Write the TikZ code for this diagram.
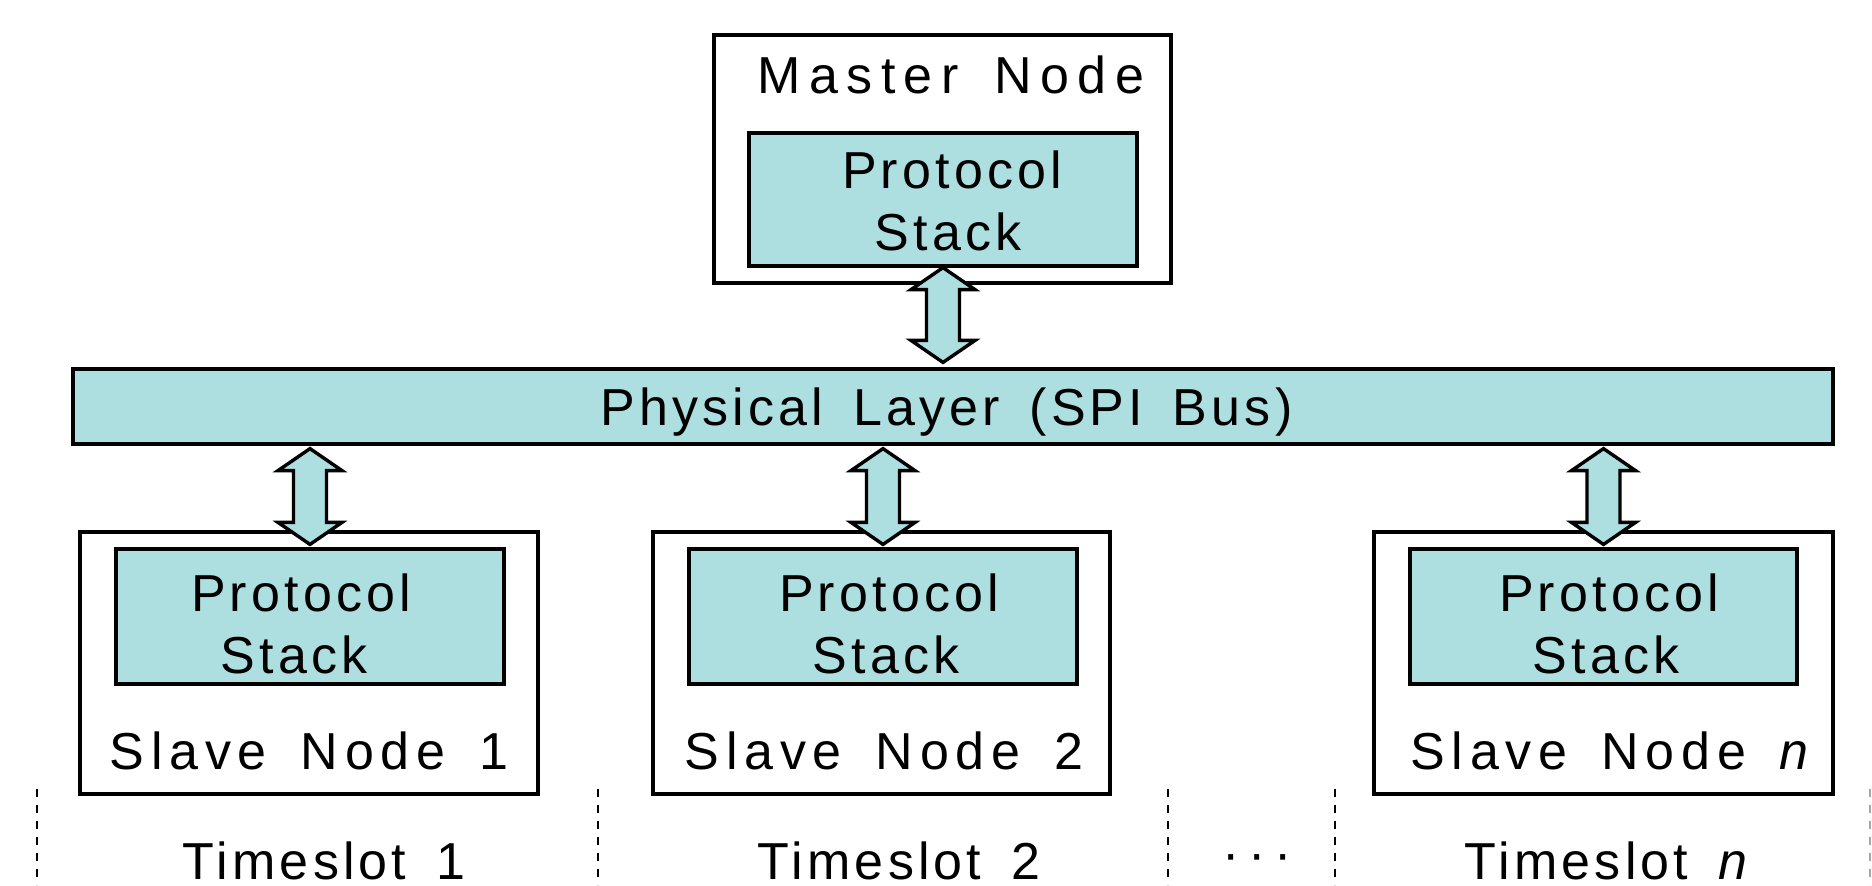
\documentclass[tikz,border=0pt]{standalone}
\usepackage{fontspec}
\setmainfont{Liberation Sans}[LetterSpace=8, WordSpace=1.6]
\usetikzlibrary{calc}

\definecolor{stackfill}{RGB}{173,222,224}

\tikzset{
  outerbox/.style={draw, line width=2pt, fill=white, inner sep=0pt},
  stackbox/.style={draw, line width=1.6pt, fill=stackfill, inner sep=0pt},
  lbl/.style={inner sep=0pt, anchor=base, font=\fontsize{26}{31}\selectfont},
  nodelbl/.style={lbl, font=\fontsize{26}{31}\selectfont\addfontfeature{LetterSpace=#1}},
  busarrow/.style={draw, line width=1.7pt, fill=stackfill, line join=miter},
  slotline/.style={line width=1pt, dash pattern=on 4pt off 4pt},
}

% double-headed block arrow from #1 (upper tip) to #2 (lower tip)
\newcommand\duplexarrow[2]{%
  \filldraw[busarrow] let \p1=(#1), \p2=(#2) in
    (\x1,\y1) -- (\x1+16pt,\y1-11pt) -- (\x1+8.25pt,\y1-11pt)
    -- (\x1+8.25pt,\y2+11pt) -- (\x1+16pt,\y2+11pt) -- (\x1,\y2)
    -- (\x1-16pt,\y2+11pt) -- (\x1-8.25pt,\y2+11pt)
    -- (\x1-8.25pt,\y1-11pt) -- (\x1-16pt,\y1-11pt) -- cycle;}

\begin{document}
\begin{tikzpicture}[x=0.5pt, y=-0.5pt]
  \useasboundingbox (0,0) rectangle (1872,885);

  % master node
  \node[outerbox, minimum width=228.5pt, minimum height=124pt] (master) at (942.5,159) {};
  \node[stackbox, minimum width=194pt, minimum height=66.5pt] (mstack) at (943,199.5) {};
  \node[nodelbl=16] (mlabel) at (951,93) {Master Node};
  \node[lbl] (mproto) at (952,188) {Protocol};
  \node[lbl] (mst) at (948,250) {Stack};

  % shared bus
  \node[stackbox, minimum width=880pt, minimum height=37.5pt] (phy) at (953,406.5) {};
  \node[lbl] (phylabel) at (946.5,425) {Physical Layer (SPI Bus)};

  % slave nodes
  \node[outerbox, minimum width=229pt, minimum height=131pt] (s1) at (309,663) {};
  \node[outerbox, minimum width=228.5pt, minimum height=131pt] (s2) at (881.5,663) {};
  \node[outerbox, minimum width=229.5pt, minimum height=131pt] (sn) at (1603.5,663) {};

  \node[stackbox, minimum width=194pt, minimum height=67.5pt] (s1stack) at (310,616.5) {};
  \node[stackbox, minimum width=194pt, minimum height=67.5pt] (s2stack) at (883,616.5) {};
  \node[stackbox, minimum width=193.5pt, minimum height=67.5pt] (snstack) at (1603.5,616.5) {};

  \node[lbl] (s1proto) at (301,611) {Protocol};
  \node[lbl] (s1st) at (294,673) {Stack};
  \node[nodelbl=13] (s1label) at (309,769) {Slave Node 1};

  \node[lbl] (s2proto) at (889,611) {Protocol};
  \node[lbl] (s2st) at (886,673) {Stack};
  \node[nodelbl=13] (s2label) at (884,769) {Slave Node 2};

  \node[lbl] (snproto) at (1609,611) {Protocol};
  \node[lbl] (snst) at (1606,673) {Stack};
  \node[nodelbl=13] (snlabel) at (1613,769) {Slave Node \textit{n}};

  % bus connections
  \coordinate (mtop) at (mstack.south);
  \coordinate (mbot) at ($(phy.north -| mstack.south)+(0,-5)$);
  \duplexarrow{mtop}{mbot}

  \foreach \s in {s1,s2,sn}{
    \coordinate (\s top) at ($(phy.south -| \s stack.north)+(0,3)$);
    \coordinate (\s bot) at ($(\s stack.north)+(0,-3)$);
    \duplexarrow{\s top}{\s bot}
  }

  % timeslot separators
  \foreach \xx/\nm in {37/d0,598/d1,1168/d2,1335/d3}{
    \coordinate (\nm a) at (\xx,789);
    \coordinate (\nm b) at (\xx,885);
    \draw[slotline] (\nm a) -- (\nm b);
  }
  \coordinate (d4a) at (1870,789);
  \coordinate (d4b) at (1870,885);
  \draw[slotline, black!35] (d4a) -- (d4b);

  % timeslot labels
  \node[lbl] (t1) at (324,879) {Timeslot 1};
  \node[lbl] (t2) at (899,879) {Timeslot 2};
  \node[lbl, anchor=center] (tdots) at (1257,863) {·\,·\,·};
  \node[lbl] (tn) at (1608,879) {Timeslot \textit{n}};
\end{tikzpicture}
\end{document}
